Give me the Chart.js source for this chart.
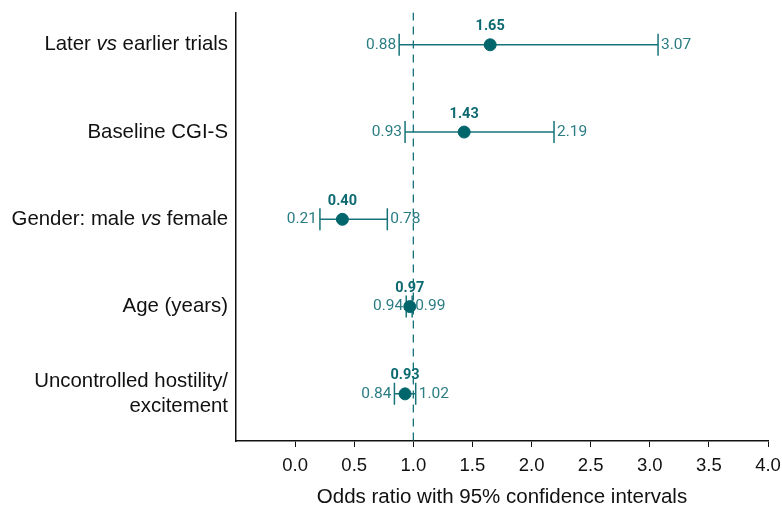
<!DOCTYPE html>
<html>
<head>
<meta charset="utf-8">
<script src="https://cdn.jsdelivr.net/npm/chart.js@4"></script>
<style>
  html, body { margin: 0; padding: 0; background: #fff; }
  #wrap { width: 782px; height: 515px; }
</style>
</head>
<body>
<div id="wrap"><canvas id="forestChart"></canvas></div>
<script>
// Forest plot: odds ratios with 95% CI
const rowLabels = [
  'Later vs earlier trials',
  'Baseline CGI-S',
  'Gender: male vs female',
  'Age (years)',
  ['Uncontrolled hostility/', 'excitement']
];
const oddsRatios = [1.65, 1.43, 0.40, 0.97, 0.93];
const ciLower = [0.88, 0.93, 0.21, 0.94, 0.84];
const ciUpper = [3.07, 2.19, 0.78, 0.99, 1.02];
const xTicks = [0, 0.5, 1, 1.5, 2, 2.5, 3, 3.5, 4];
const refLine = 1;

const COLORS = {
  dot: '#00666b',
  bar: '#177379',
  text: '#2b7d83',
  bold: '#0c6a70',
  axis: '#111'
};
const LABEL_FONT = '"Liberation Sans", Arial, sans-serif';

const rows = rowLabels.map((_, i) => i);

const datasets = [{
  type: 'scatter',
  data: rows.map(i => ({ x: oddsRatios[i], y: i })),
  backgroundColor: COLORS.dot,
  borderColor: COLORS.dot,
  pointRadius: 6,
  order: 0
}];

rows.forEach(i => {
  datasets.push({
    type: 'line',
    data: [{ x: ciLower[i], y: i }, { x: ciUpper[i], y: i }],
    borderColor: COLORS.bar,
    borderWidth: 1.5,
    pointStyle: 'line',
    pointRotation: 90,
    pointRadius: 11,
    pointBorderWidth: 1.5,
    pointBorderColor: COLORS.bar,
    order: 1
  });
});

// dashed reference line at OR = 1
datasets.push({
  type: 'line',
  data: [{ x: refLine, y: -0.37 }, { x: refLine, y: 4.54 }],
  borderColor: COLORS.bar,
  borderWidth: 1.3,
  borderDash: [8, 6],
  pointRadius: 0,
  order: 2
});

const forestLabels = {
  id: 'forestLabels',
  afterDatasetsDraw(chart) {
    const { ctx, scales: { x, y } } = chart;
    ctx.save();
    ctx.textBaseline = 'middle';

    // row labels, "vs" in italics
    const labelRight = x.left - 8;
    rowLabels.forEach((lab, i) => {
      const lines = Array.isArray(lab) ? lab : [lab];
      const lh = 25;
      const y0 = y.getPixelForValue(i) - (lines.length - 1) * lh / 2;
      lines.forEach((line, k) => {
        const parts = line.split(/( vs )/);
        const segs = parts.map(p => p === ' vs '
          ? { t: ' vs ', f: 'italic 20.4px ' + LABEL_FONT }
          : { t: p, f: '20.4px ' + LABEL_FONT });
        let w = 0;
        segs.forEach(s => { ctx.font = s.f; w += ctx.measureText(s.t).width; });
        let cx = labelRight - w;
        ctx.fillStyle = '#111';
        ctx.textAlign = 'left';
        segs.forEach(s => {
          ctx.font = s.f;
          ctx.fillText(s.t, cx, y0 + k * lh);
          cx += ctx.measureText(s.t).width;
        });
      });
    });

    // value labels
    rows.forEach(i => {
      const py = y.getPixelForValue(i);
      ctx.font = '15.5px Roboto';
      ctx.fillStyle = COLORS.text;
      ctx.textAlign = 'right';
      ctx.fillText(ciLower[i].toFixed(2), x.getPixelForValue(ciLower[i]) - 3, py);
      ctx.textAlign = 'left';
      ctx.fillText(ciUpper[i].toFixed(2), x.getPixelForValue(ciUpper[i]) + 3, py);
      ctx.font = 'bold 14.5px Roboto';
      ctx.fillStyle = COLORS.bold;
      ctx.textAlign = 'center';
      ctx.fillText(oddsRatios[i].toFixed(2), x.getPixelForValue(oddsRatios[i]), py - 18);
    });
    ctx.restore();
  }
};

new Chart(document.getElementById('forestChart'), {
  data: { datasets },
  options: {
    responsive: true,
    maintainAspectRatio: false,
    animation: false,
    layout: { padding: { left: 0, right: 0, top: 8, bottom: 0 } },
    plugins: {
      legend: { display: false },
      tooltip: { enabled: false }
    },
    scales: {
      x: {
        type: 'linear',
        min: -0.5,
        max: 4,
        afterBuildTicks: (scale) => { scale.ticks = xTicks.map(v => ({ value: v })); },
        afterFit: (scale) => {
          scale.height = 74;
          scale.paddingLeft = 0;
          scale.paddingRight = 14;
        },
        grid: { drawOnChartArea: false, tickLength: 6, color: COLORS.axis, lineWidth: 1 },
        border: { color: COLORS.axis, width: 1.5 },
        ticks: {
          color: '#111',
          font: { family: LABEL_FONT, size: 18.5 },
          padding: 8,
          callback: v => Number(v).toFixed(1)
        },
        title: {
          display: true,
          text: 'Odds ratio with 95% confidence intervals',
          color: '#111',
          font: { family: LABEL_FONT, size: 20.5 },
          padding: { top: 4, bottom: 5 }
        }
      },
      y: {
        type: 'linear',
        reverse: true,
        min: -0.37,
        max: 4.54,
        afterFit: (scale) => { scale.width = 236; },
        grid: { display: false },
        border: { color: COLORS.axis, width: 1.5 },
        ticks: { display: false }
      }
    }
  },
  plugins: [forestLabels]
});
</script>
</body>
</html>
